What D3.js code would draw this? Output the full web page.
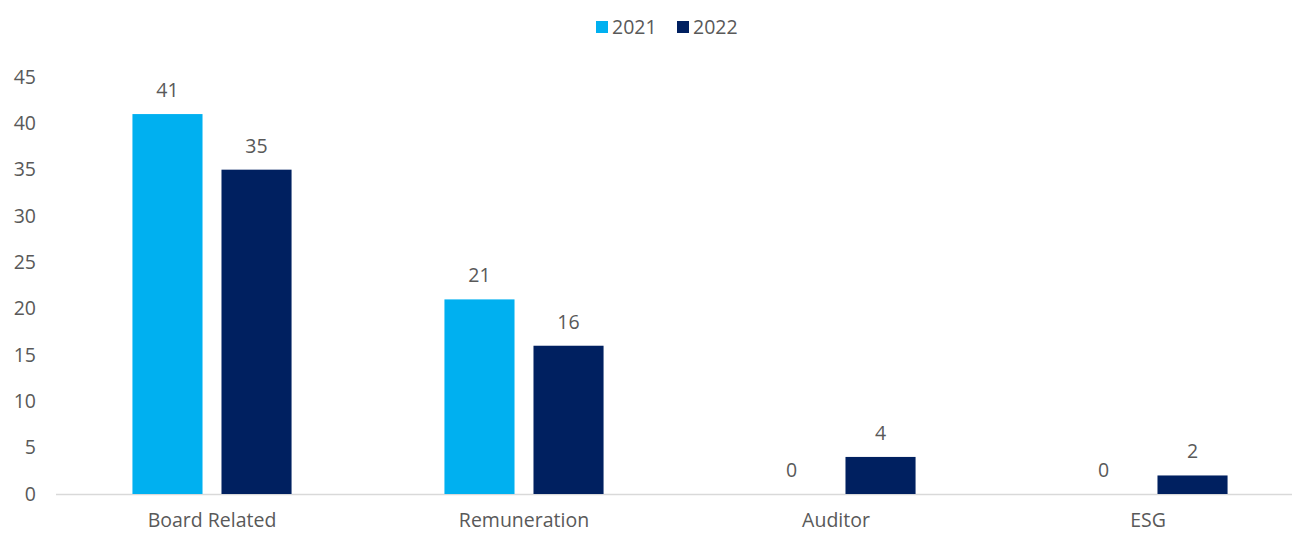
<!DOCTYPE html>
<html>
<head>
<meta charset="utf-8">
<script src="https://cdn.jsdelivr.net/npm/d3@7"></script>
<style>
  html, body { margin: 0; padding: 0; background: #fff; }
  svg { display: block; font-family: "Open Sans", Lato, sans-serif; }
</style>
</head>
<body>
<svg id="chart" width="1292" height="533"></svg>
<script>
// Resolution counts by category, 2021 vs 2022
const categories = ["Board Related", "Remuneration", "Auditor", "ESG"];
const seriesNames = ["2021", "2022"];
const values2021 = [41, 21, 0, 0];
const values2022 = [35, 16, 4, 2];
const yTicks = [0, 5, 10, 15, 20, 25, 30, 35, 40, 45];
const colors = ["#00b0f0", "#002060"];

const seriesValues = [values2021, values2022];
const rows = categories.map((c, i) => ({
  category: c,
  values: seriesNames.map((s, j) => ({ series: s, value: seriesValues[j][i], color: colors[j] }))
}));

const svg = d3.select("#chart");
const textColor = "#595959";
const fontSize = 19.5;
const fontFamily = "'Open Sans', Lato, sans-serif";

const x0 = d3.scaleBand()
  .domain(categories)
  .range([56, 1304])
  .paddingInner(0.49)
  .paddingOuter(0.245);

const x1 = d3.scaleBand()
  .domain(seriesNames)
  .range([0, x0.bandwidth()])
  .paddingInner(0.213)
  .paddingOuter(0);

const y = d3.scaleLinear()
  .domain([0, 45])
  .range([494, 77]);

// Y axis labels (no axis line, no ticks)
const yAxis = svg.append("g")
  .attr("transform", "translate(36,0)")
  .call(d3.axisLeft(y).tickValues(yTicks).tickSize(0).tickPadding(0));
yAxis.select(".domain").remove();
yAxis.selectAll("text")
  .attr("fill", textColor)
  .style("font-size", fontSize + "px")
  .style("font-family", fontFamily);

// Baseline
svg.append("line")
  .attr("x1", x0.range()[0])
  .attr("x2", x0.range()[1])
  .attr("y1", y(0) + 0.5)
  .attr("y2", y(0) + 0.5)
  .attr("stroke", "#d9d9d9")
  .attr("stroke-width", 1.5);

// Bars
const groups = svg.append("g").selectAll("g")
  .data(rows)
  .join("g")
  .attr("transform", d => `translate(${x0(d.category)},0)`);

groups.selectAll("rect")
  .data(d => d.values)
  .join("rect")
  .attr("x", d => x1(d.series))
  .attr("y", d => y(d.value))
  .attr("width", x1.bandwidth())
  .attr("height", d => y(0) - y(d.value))
  .attr("fill", d => d.color);

// Value labels
groups.selectAll("text.value")
  .data(d => d.values)
  .join("text")
  .attr("class", "value")
  .attr("x", d => x1(d.series) + x1.bandwidth() / 2)
  .attr("y", d => y(d.value) - 17)
  .attr("text-anchor", "middle")
  .attr("fill", textColor)
  .style("font-size", fontSize + "px")
  .text(d => d.value);

// Category labels
const xAxis = svg.append("g")
  .attr("transform", `translate(0,${y(0)})`)
  .call(d3.axisBottom(x0).tickSize(0).tickPadding(19));
xAxis.select(".domain").remove();
xAxis.selectAll("text")
  .attr("fill", textColor)
  .style("font-size", fontSize + "px")
  .style("font-family", fontFamily);

// Legend
const legendItems = [
  { name: seriesNames[0], color: colors[0], x: 596 },
  { name: seriesNames[1], color: colors[1], x: 677 }
];
const legend = svg.append("g");
legend.selectAll("rect")
  .data(legendItems)
  .join("rect")
  .attr("x", d => d.x)
  .attr("y", 21)
  .attr("width", 12)
  .attr("height", 12)
  .attr("fill", d => d.color);
legend.selectAll("text")
  .data(legendItems)
  .join("text")
  .attr("x", d => d.x + 16)
  .attr("y", 34)
  .attr("fill", textColor)
  .style("font-size", fontSize + "px")
  .text(d => d.name);
</script>
</body>
</html>
